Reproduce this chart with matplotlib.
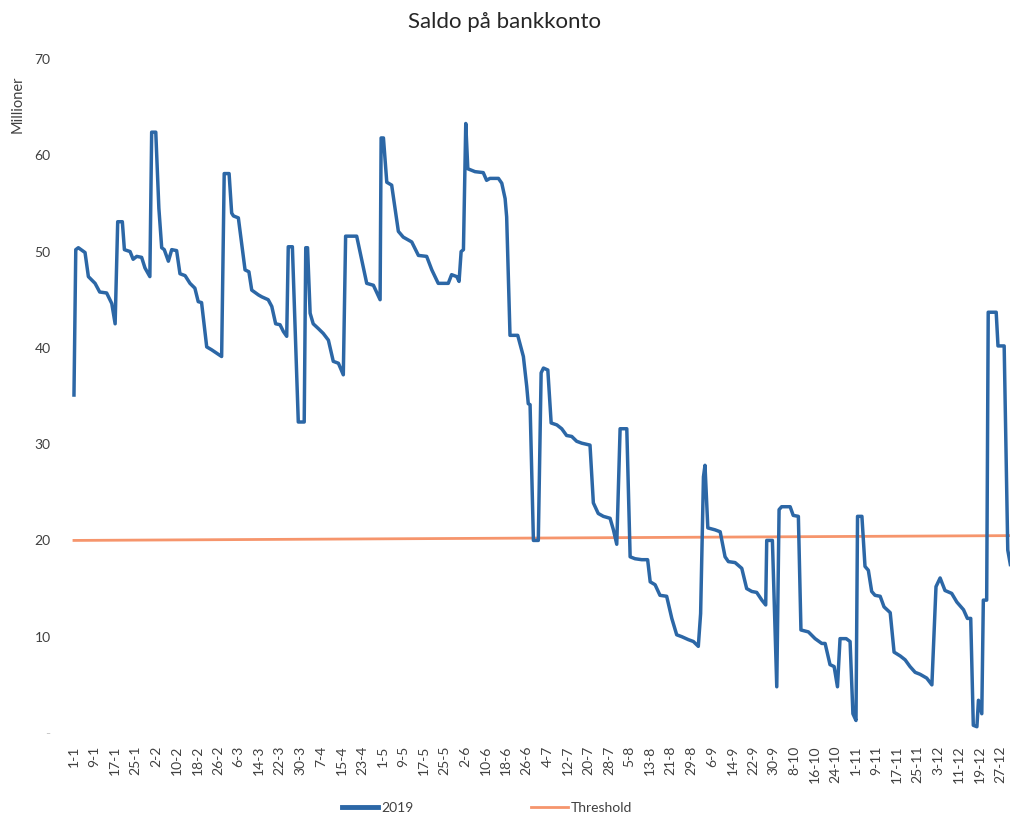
import datetime
import matplotlib
matplotlib.use('Agg')  # render straight to file
import matplotlib.pyplot as plt

plt.rcParams['font.family'] = ['Lato', 'DejaVu Sans']

title = "Saldo på bankkonto"
series_name = "2019"
threshold_name = "Threshold"

# account balance (millions) as vertices: day of year (0 = 1 Jan) and value
days = [
    0, 0.7, 1.7, 4.3, 5.6, 8.2, 10, 12.7, 14.7, 16, 17, 18.8, 19.6, 21.8, 23,
    24.4, 26.3, 27.6, 29.5, 30.2, 31.8, 33, 34.1, 35.1, 36.7, 38, 39.9, 41.2,
    43.2, 45.1, 47, 48.3, 49.6, 51.6, 53.5, 57.4, 58.4, 60.3, 61.3, 62, 63.9,
    66.5, 68, 69.1, 71.7, 73, 75.5, 76.9, 78.4, 80.1, 81.4, 82.7, 83.3, 84.9,
    87.2, 89.5, 90.1, 90.8, 91.8, 93, 95, 96.9, 98.9, 100.8, 102.8, 104.7,
    105.6, 109.9, 111.9, 113.8, 116.4, 119, 119.4, 120.3, 121.6, 123.5, 126.1,
    128, 131.3, 133.9, 137.1, 139.1, 141.6, 145.5, 146.8, 148.8, 149.7, 150.5,
    151.4, 152.3, 153.1, 155.9, 159.1, 160.4, 161.7, 165, 166.3, 167.6, 168.2,
    169.5, 172.5, 174.7, 176, 176.6, 177.3, 178.6, 180.5, 181.6, 182.5, 184.2,
    185.5, 187.7, 189.6, 191.5, 193.5, 195.4, 197.4, 200.6, 201.9, 203.8,
    205.8, 208.4, 209.7, 211, 212.3, 214.9, 216.2, 218.1, 220.7, 223, 224,
    225.9, 227.8, 230.4, 232.4, 234.3, 236.3, 238.8, 240.8, 242.7, 243.6,
    244.7, 245.3, 246.4, 249.2, 251.2, 253.1, 254.4, 257, 259.6, 261.5, 263.5,
    265.4, 267.4, 268.9, 269.3, 271.5, 273.2, 274.1, 275.1, 278.4, 279.6,
    281.6, 282.6, 285.5, 288.1, 290.7, 292, 293.9, 295.5, 296.8, 297.8, 300.2,
    301.7, 302.8, 304, 304.6, 306.3, 307.5, 308.8, 310.1, 311.4, 313.4, 314.9,
    317.3, 318.8, 321.2, 323.1, 325, 327, 328.9, 331.5, 333.5, 335.1, 336.7,
    338.6, 341.2, 343.2, 345.8, 347.3, 348.6, 349.6, 351, 351.6, 352.9, 353.5,
    354.8, 355.4, 358.5, 359.2, 361.6, 363, 364,
]
balance = [
    35.1, 50.2, 50.4, 49.9, 47.4, 46.7, 45.8, 45.7, 44.6, 42.5, 53.1, 53.1,
    50.2, 50.0, 49.2, 49.5, 49.4, 48.3, 47.4, 62.4, 62.4, 54.5, 50.4, 50.2,
    49.0, 50.2, 50.1, 47.7, 47.5, 46.7, 46.2, 44.8, 44.7, 40.1, 39.8, 39.1,
    58.1, 58.1, 54.0, 53.7, 53.5, 48.1, 47.9, 46.0, 45.5, 45.3, 45.0, 44.3,
    42.5, 42.4, 41.7, 41.2, 50.5, 50.5, 32.3, 32.3, 50.4, 50.4, 43.6, 42.5,
    42.0, 41.5, 40.8, 38.6, 38.4, 37.2, 51.6, 51.6, 49.1, 46.7, 46.5, 45.0,
    61.8, 61.8, 57.2, 56.9, 52.1, 51.5, 51.0, 49.6, 49.5, 48.1, 46.7, 46.7,
    47.6, 47.4, 46.9, 50.0, 50.2, 63.3, 58.6, 58.3, 58.2, 57.4, 57.6, 57.6,
    57.1, 55.5, 53.6, 41.3, 41.3, 39.1, 36.0, 34.2, 34.1, 20.0, 20.0, 37.4,
    37.9, 37.7, 32.2, 32.0, 31.6, 30.9, 30.8, 30.3, 30.1, 29.9, 23.9, 22.8,
    22.5, 22.3, 21.1, 19.6, 31.6, 31.6, 18.3, 18.1, 18.0, 18.0, 15.7, 15.4,
    14.3, 14.2, 11.9, 10.2, 10.0, 9.7, 9.5, 9.0, 12.4, 26.6, 27.8, 21.3, 21.1,
    20.9, 18.3, 17.8, 17.7, 17.1, 15.0, 14.7, 14.6, 13.8, 13.3, 20.0, 20.0,
    4.8, 23.2, 23.5, 23.5, 22.6, 22.5, 10.7, 10.5, 9.8, 9.3, 9.3, 7.1, 6.9,
    4.8, 9.8, 9.8, 9.5, 2.0, 1.3, 22.5, 22.5, 17.3, 16.9, 14.7, 14.3, 14.2,
    13.1, 12.5, 8.4, 8.0, 7.6, 6.9, 6.3, 6.1, 5.7, 5.0, 15.2, 16.1, 14.8,
    14.5, 13.6, 12.8, 11.9, 11.9, 0.8, 0.65, 3.4, 2.0, 13.8, 13.8, 43.7, 43.7,
    40.2, 40.2, 19.0, 17.5,
]

threshold_days = [0, 364]
threshold = [20.0, 20.5]

tick_labels = [
    '1-1', '9-1', '17-1', '25-1', '2-2', '10-2', '18-2', '26-2', '6-3', '14-3',
    '22-3', '30-3', '7-4', '15-4', '23-4', '1-5', '9-5', '17-5', '25-5', '2-6',
    '10-6', '18-6', '26-6', '4-7', '12-7', '20-7', '28-7', '5-8', '13-8',
    '21-8', '29-8', '6-9', '14-9', '22-9', '30-9', '8-10', '16-10', '24-10',
    '1-11', '9-11', '17-11', '25-11', '3-12', '11-12', '19-12', '27-12',
]
y_ticks = [0, 10, 20, 30, 40, 50, 60, 70]
y_tick_labels = ['-', '10', '20', '30', '40', '50', '60', '70']


def day_of_year(label):
    d, m = (int(p) for p in label.split('-'))
    return datetime.date(2019, m, d).timetuple().tm_yday - 1


text_col = '#404040'
fig = plt.figure(figsize=(10.1, 8.16), dpi=100)
ax = fig.add_axes([66 / 1010, 83 / 816, 950 / 1010, 674 / 816])

ax.plot(days, balance, color='#2C67A6', lw=2.5, solid_joinstyle='round',
        label=series_name, zorder=3)
ax.plot(threshold_days, threshold, color='#F6956C', lw=2.0,
        label=threshold_name, zorder=2)

ax.set_xlim(-3.1, 366.2)
ax.set_ylim(0, 70)
ax.set_xticks([day_of_year(t) for t in tick_labels])
ax.set_xticklabels(tick_labels, rotation=90, fontsize=10, color=text_col)
ax.set_yticks(y_ticks)
ax.set_yticklabels(y_tick_labels, fontsize=10, color=text_col)
ax.get_yticklabels()[0].set_color('#c8c8c8')
ax.tick_params(axis='x', length=0, pad=9)
ax.tick_params(axis='y', length=0, pad=11)
for s in ax.spines.values():
    s.set_visible(False)

fig.text(0.5, 1 - 22 / 816, title, ha='center', va='center',
         fontsize=16, color='#262626')
fig.text(18 / 1010, 1 - 104 / 816, 'Millioner', rotation=90, ha='center',
         va='center', fontsize=10.5, color=text_col)

leg = fig.legend(loc='center', bbox_to_anchor=(487 / 1010, 8 / 816), ncol=2,
                 frameon=False, fontsize=10, handlelength=2.6,
                 handletextpad=0.25, columnspacing=8.5)
for t in leg.get_texts():
    t.set_color(text_col)
leg.get_lines()[0].set_linewidth(3.5)

fig.savefig('out.png', dpi=100)
